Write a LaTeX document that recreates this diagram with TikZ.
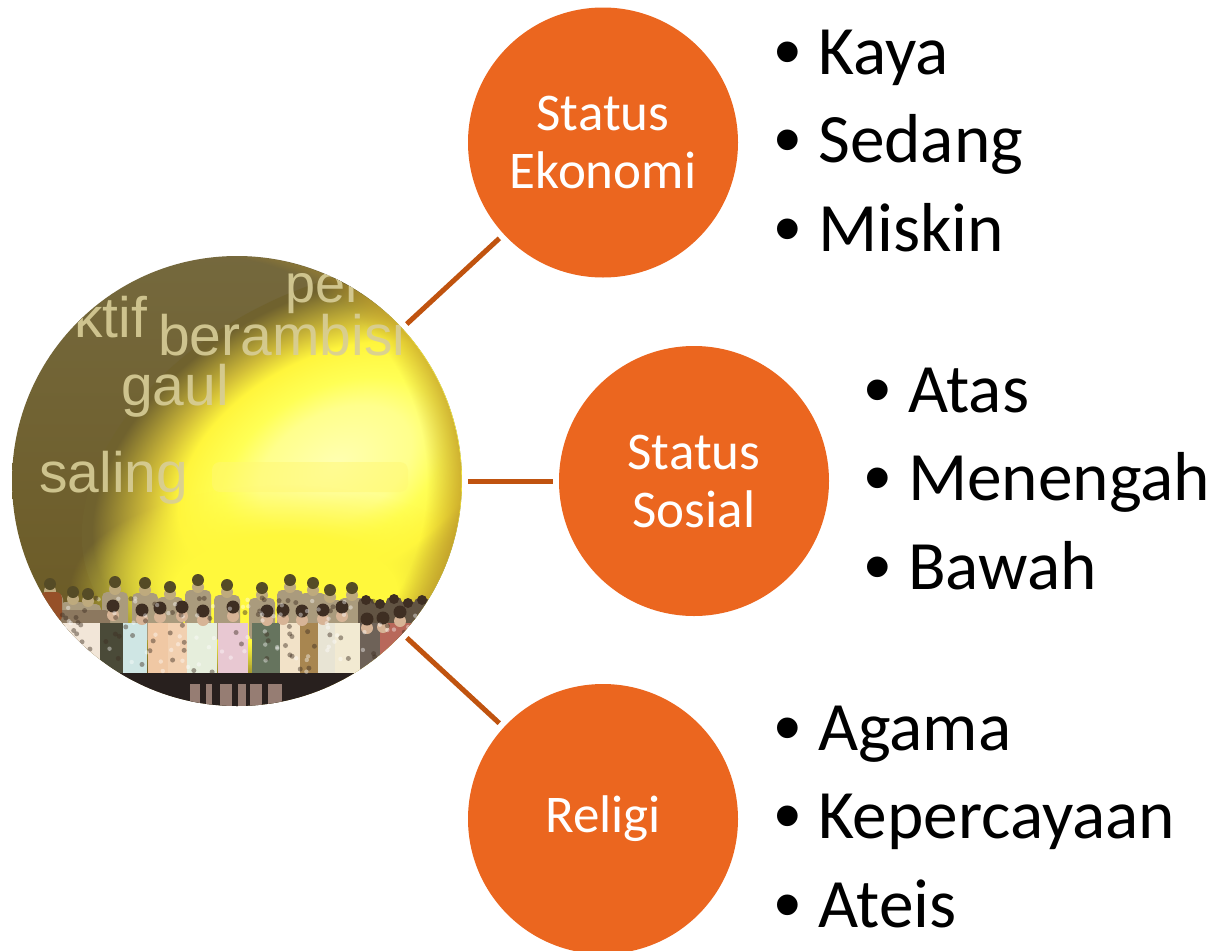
\documentclass[tikz,border=0pt]{standalone}
\usetikzlibrary{fadings}
\usepackage{fontspec}
\setmainfont{Carlito}
\newfontfamily\photofont{Liberation Sans}
\newfontfamily\bulletfont{Liberation Sans}
\definecolor{orangefill}{HTML}{EB661F}
\definecolor{linkcol}{HTML}{C0530F}
\definecolor{phototext}{HTML}{D8CE98}
\definecolor{olivetop}{HTML}{75693E}
\definecolor{olivelow}{HTML}{6A5820}
\definecolor{rimgold}{HTML}{C09A28}
\definecolor{glowyellow}{HTML}{FFF83C}
\definecolor{crowdbase}{RGB}{140,120,95}
\definecolor{legsdark}{RGB}{40,32,30}
\definecolor{legslight}{RGB}{150,125,115}
\definecolor{hair}{RGB}{62,46,34}
\definecolor{skin}{RGB}{215,180,150}
\definecolor{hairback}{RGB}{85,75,38}
\definecolor{skinback}{RGB}{190,170,125}
\definecolor{backbody}{RGB}{170,155,125}
\definecolor{leftfigure}{RGB}{150,80,40}
\pgfdeclareradialshading{glow}{\pgfpoint{0bp}{0bp}}{%
 color(0bp)=(rgb,255:red,255;green,255;blue,178);
 color(7.5bp)=(rgb,255:red,255;green,255;blue,140);
 color(11bp)=(rgb,255:red,255;green,255;blue,85);
 color(15.5bp)=(rgb,255:red,255;green,245;blue,60);
 color(18.5bp)=(rgb,255:red,208;green,188;blue,56);
 color(24bp)=(rgb,255:red,112;green,98;blue,46);
 color(50bp)=(rgb,255:red,112;green,98;blue,46)}
\pgfdeclareradialshading{rimmask}{\pgfpoint{-8bp}{0bp}}{%
 color(0bp)=(black); color(25bp)=(black); color(28.5bp)=(white!80!black); color(50bp)=(white!80!black)}
\pgfdeclarefading{rimfade}{\pgfuseshading{rimmask}}
\pgfdeclareradialshading{blobmask}{\pgfpoint{0bp}{0bp}}{%
 color(0bp)=(white); color(13bp)=(white); color(25bp)=(black); color(50bp)=(black)}
\pgfdeclarefading{blobfade}{\pgfuseshading{blobmask}}
\tikzset{
 x=1pt,y=-1pt,
 hub/.style={circle,minimum size=270pt,inner sep=0pt,fill=orangefill,text=white,align=center,
   font=\fontsize{53}{58}\selectfont},
 link/.style={draw=linkcol,line width=5pt,shorten <=6pt,shorten >=6pt},
 item/.style={anchor=base west,inner sep=0pt,font=\fontsize{69.3}{80}\selectfont},
 imgword/.style={anchor=base west,inner sep=0pt,text=phototext,opacity=.9,font=\photofont\fontsize{57}{60}\selectfont}
}
\newcommand{\bul}{\makebox[43.5pt][l]{\bulletfont\fontsize{76}{80}\selectfont\raisebox{-3pt}{•}}}
\begin{document}
\begin{tikzpicture}
\useasboundingbox (0,0) rectangle (1211,951);
\fill[white] (0,0) rectangle (1211,951);

\node[circle,minimum size=450pt,inner sep=0pt] (photo) at (237,481) {};
\begin{scope}
 \clip (photo.center) circle[radius=225pt];
 \shade[top color=olivetop,bottom color=olivelow] (0,240) rectangle (480,720);
 \begin{scope}[transform canvas={shift={(335,465)},rotate=28,xscale=1.55}]
  \shade[shading=glow] (0,0) circle[radius=175pt];
 \end{scope}
 \fill[glowyellow,path fading=blobfade] (285,590) ellipse[x radius=215pt,y radius=105pt];
 \fill[rimgold,path fading=rimfade] (photo.center) circle[radius=225pt];
 % image words
 \node[imgword,font=\photofont\fontsize{54}{58}\selectfont] (w1) at (285,302) {per};
 \node[imgword] (w2) at (74,337) {ktif};
 \node[imgword] (w3) at (158,355) {berambisi};
 \node[imgword] (w4) at (121,405) {gaul};
 \node[imgword] (w5) at (39,492) {saling};
 \fill[rounded corners=8pt,white!45!yellow,opacity=.5] (212,462) rectangle (408,492);
 % crowd: back row
 \foreach \xx/\yy in {50/584,73/592,88/594,115/582,145/583,170/587,198/580,227/585,262/588,290/580,313/583,330/590,352/588}{
  \fill[backbody,rounded corners=5pt] (\xx-13,\yy+10) rectangle (\xx+13,640);
  \fill[skinback] (\xx,\yy+7) circle[radius=6pt];
  \fill[hairback] (\xx,\yy) circle[radius=6pt];
 }
 % right side and left side of crowd
 \foreach \xx/\yy in {366/598,380/602,394/597,408/601,422/598,436/603}{
  \fill[crowdbase!70!black,rounded corners=5pt] (\xx-8,\yy) rectangle (\xx+8,640);
  \fill[hair] (\xx,\yy+2) circle[radius=5pt];
 }
 \fill[crowdbase,rounded corners=5pt] (30,610) rectangle (110,650);
 \fill[leftfigure,rounded corners=6pt] (40,592) rectangle (62,622);
 % shirts
 \foreach \xa/\xb/\cc in {60/100/F2E6D8,100/123/4A4A38,123/147/CFE6E4,148/168/F0C8A4,168/187/F2D0B0,187/217/E6EEDC,218/248/E8C8D2,252/280/66745E,280/300/F2E2C8,300/318/A88650,318/335/E8E4D4,335/360/F2EAD2,360/380/6E6258,380/420/B8685A}{
  \definecolor{shirt}{HTML}{\cc}
  \fill[shirt] (\xa,623) rectangle (\xb,673);
 }
 % legs
 \fill[legsdark] (20,673) rectangle (460,720);
 \foreach \xa/\xb in {190/200,206/212,220/232,238/246,250/262,268/282}{
  \fill[legslight] (\xa,684) rectangle (\xb,712);
 }
 % front row
 \foreach \xx/\yy in {113/606,142/610,160/608,182/607,203/611,233/607,267/611,283/610,302/611,323/610,342/607,367/619,383/618,400/612}{
  \fill[skin] (\xx,\yy+9) circle[radius=6pt];
  \fill[hair] (\xx,\yy) circle[radius=6.5pt];
 }
 % mottling
 \pgfmathsetseed{11}
 \foreach \n in {1,...,170}{
  \pgfmathsetmacro{\hx}{60+rnd*365}
  \pgfmathsetmacro{\hy}{598+rnd*75}
  \pgfmathsetmacro{\hk}{rnd}
  \ifdim\hk pt<.5pt
   \fill[hair,opacity=.45] (\hx,\hy) circle[radius=2.5pt];
  \else
   \fill[white,opacity=.4] (\hx,\hy) circle[radius=2.2pt];
  \fi
 }
\end{scope}

\node[hub] (econ) at (603,142.5) {Status\\Ekonomi};
\node[hub] (sos) at (694,481) {Status\\Sosial};
\node[hub] (rel) at (603,819) {Religi};

\draw[link] (photo) -- (econ);
\draw[link] (photo) -- (sos);
\draw[link] (photo) -- (rel);

\node[item] (a1) at (774.5,74) {\bul Kaya};
\node[item] (a2) at (774.5,162.5) {\bul Sedang};
\node[item] (a3) at (774.5,251) {\bul Miskin};
\node[item] (b1) at (864.5,412) {\bul Atas};
\node[item] (b2) at (864.5,500.5) {\bul Menengah};
\node[item] (b3) at (864.5,589) {\bul Bawah};
\node[item] (c1) at (774.5,750) {\bul Agama};
\node[item] (c2) at (774.5,838.5) {\bul Kepercayaan};
\node[item] (c3) at (774.5,927) {\bul Ateis};
\end{tikzpicture}
\end{document}
